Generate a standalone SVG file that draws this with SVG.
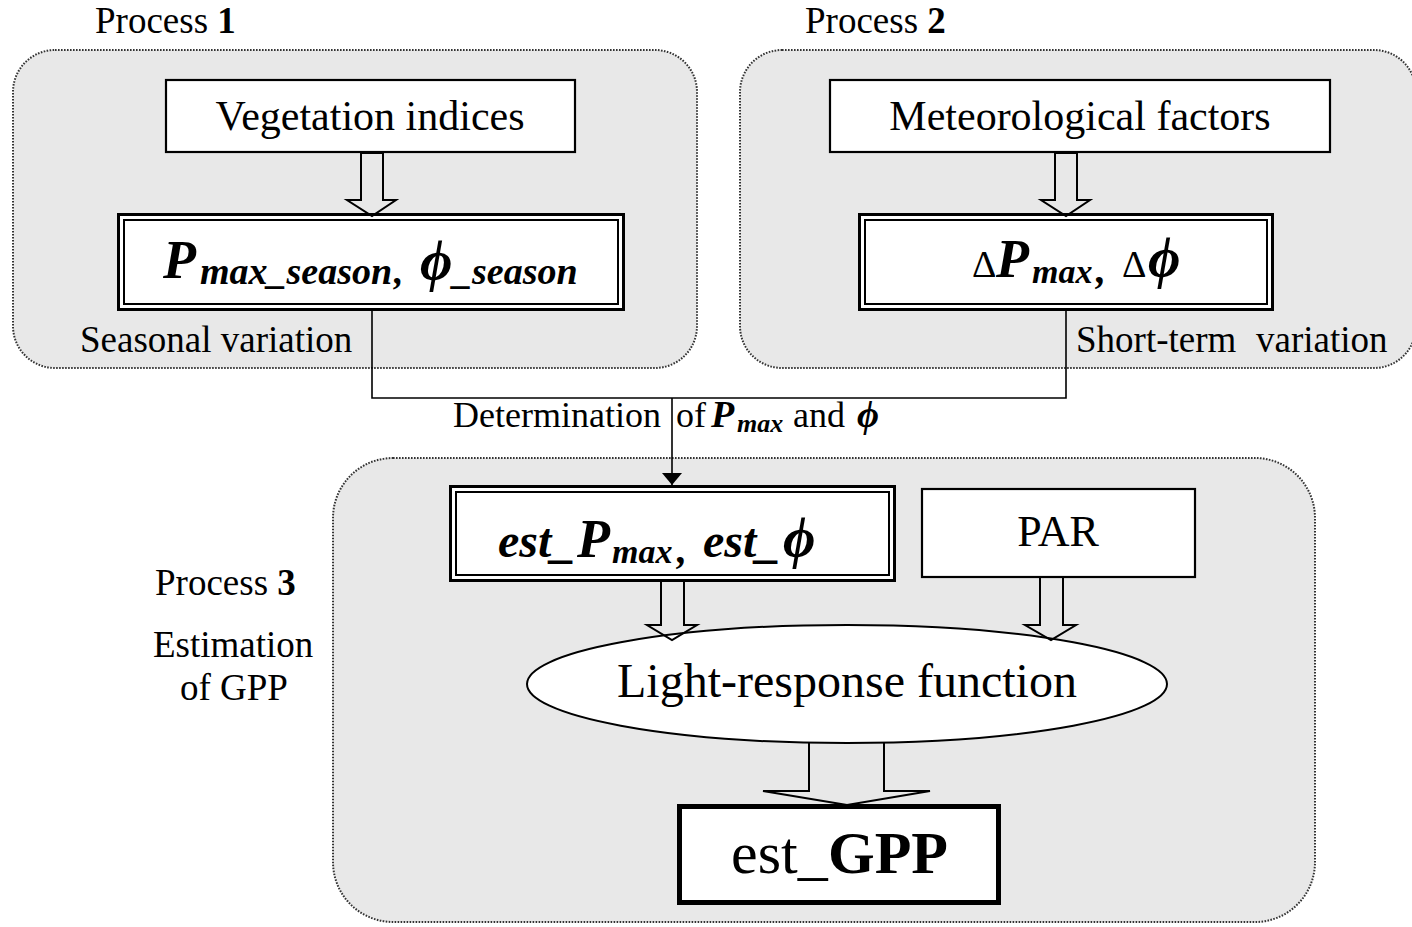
<svg xmlns="http://www.w3.org/2000/svg" width="1412" height="927" viewBox="0 0 1412 927">
<defs>
<style>
text{font-family:"Liberation Serif","Times New Roman","DejaVu Serif",serif;fill:#000}
.panel{fill:#e8e8e8;stroke:#333;stroke-width:2;stroke-dasharray:1.6 1.4}
.box{fill:#fff;stroke:#000;stroke-width:2.2}
.outer{fill:#fff;stroke:#000;stroke-width:3}
.inner{fill:none;stroke:#000;stroke-width:2}
.harrow{fill:none;stroke:#000;stroke-width:2;stroke-linejoin:miter}
.line{fill:none;stroke:#000;stroke-width:1.6}
.bi{font-weight:bold;font-style:italic}
.b{font-weight:bold}
.r{font-weight:normal;font-style:normal}
</style>
<marker id="ah" viewBox="0 0 12 20" refX="12" refY="10" markerWidth="12" markerHeight="20" markerUnits="userSpaceOnUse" orient="auto">
<path d="M0,0 L12,10 L0,20 z" fill="#000"/>
</marker>
</defs>

<g id="panel1">
<rect class="panel" x="13" y="50" width="684" height="318" rx="42" ry="42"/>
<text x="95" y="33" font-size="37">Process <tspan class="b">1</tspan></text>
<text x="80" y="352" font-size="37">Seasonal variation</text>
</g>
<g id="panel2">
<rect class="panel" x="740" y="50" width="676" height="318" rx="42" ry="42"/>
<text x="805" y="33" font-size="37">Process <tspan class="b">2</tspan></text>
<text y="352" font-size="37"><tspan x="1076">Short-term</tspan><tspan x="1256">variation</tspan></text>
</g>
<g id="panel3">
<rect class="panel" x="333" y="458" width="982" height="464" rx="60" ry="60"/>
<text x="155" y="595" font-size="37">Process <tspan class="b">3</tspan></text>
<text x="153" y="657" font-size="37">Estimation</text>
<text x="180" y="700" font-size="37">of GPP</text>
</g>

<g id="veg">
<rect class="box" x="166" y="80" width="409" height="72"/>
<text x="370" y="130" font-size="42" text-anchor="middle">Vegetation indices</text>
</g>
<g id="met">
<rect class="box" x="830" y="80" width="500" height="72"/>
<text x="1080" y="130" font-size="42" text-anchor="middle">Meteorological factors</text>
</g>

<g id="pseason">
<rect class="outer" x="118.5" y="214.5" width="505" height="95"/>
<rect class="inner" x="124" y="220" width="494" height="84"/>
<text class="bi" font-size="38"><tspan x="163" y="278" font-size="54">P</tspan><tspan x="200" y="284">max_season</tspan><tspan x="394" y="284">,</tspan><tspan x="420" y="280" font-size="56">ϕ</tspan><tspan x="453" y="284">_season</tspan></text>
</g>

<g id="delta">
<rect class="outer" x="859.5" y="214.5" width="413" height="95"/>
<rect class="inner" x="865" y="220" width="402" height="84"/>
<text class="bi" font-size="34"><tspan class="r" x="972" y="277" font-size="38">Δ</tspan><tspan x="996" y="277" font-size="54">P</tspan><tspan x="1032" y="283">max</tspan><tspan x="1096" y="283" font-size="40">,</tspan><tspan class="r" x="1122" y="277" font-size="38">Δ</tspan><tspan x="1148" y="277" font-size="56">ϕ</tspan></text>
</g>

<g id="est">
<rect class="outer" x="450.5" y="486.5" width="444" height="94"/>
<rect class="inner" x="456" y="492" width="433" height="83"/>
<text class="bi" font-size="48"><tspan x="498" y="557">est_</tspan><tspan x="577" y="557" font-size="54">P</tspan><tspan x="612" y="563" font-size="34">max</tspan><tspan x="677" y="563" font-size="40">,</tspan><tspan x="703" y="557">est_</tspan><tspan x="783" y="557" font-size="56">ϕ</tspan></text>
</g>

<g id="par">
<rect class="box" x="922" y="489" width="273" height="88"/>
<text x="1058" y="546" font-size="44" text-anchor="middle">PAR</text>
</g>

<g id="lrf">
<ellipse cx="847" cy="684" rx="320" ry="59" fill="#fff" stroke="#000" stroke-width="2"/>
<text x="847" y="697" font-size="48" text-anchor="middle">Light-response function</text>
</g>

<g id="gpp">
<rect x="679.5" y="806.5" width="319" height="96" fill="#fff" stroke="#000" stroke-width="5"/>
<text y="873" font-size="60"><tspan x="731">est_</tspan><tspan class="b" x="828">GPP</tspan></text>
</g>

<g id="connectors">
<path class="harrow" d="M361,153 V200 H347 L372,216 L396,200 H383 V153 Z"/>
<path class="harrow" d="M1055,153 V200 H1041 L1066,216 L1090,200 H1077 V153 Z"/>
<path class="harrow" d="M661,581 V625 H647 L672,640 L697,625 H684 V581 Z"/>
<path class="harrow" d="M1040,577 V625 H1025 L1051,640 L1076,625 H1063 V577 Z"/>
<path class="harrow" d="M809,743 V791 H763 L847,805 L930,791 H884 V743"/>
<path class="line" d="M372,310 V398 H1066 V310"/>
<path class="line" d="M672,398 V485" marker-end="url(#ah)"/>
<text y="427" font-size="36"><tspan x="453">Determination</tspan><tspan x="676">of</tspan><tspan class="bi" x="711" font-size="38">P</tspan><tspan class="bi" x="737" y="432" font-size="26">max</tspan><tspan x="793" y="427">and</tspan><tspan class="bi" x="857" font-size="38">ϕ</tspan></text>
</g>
</svg>
